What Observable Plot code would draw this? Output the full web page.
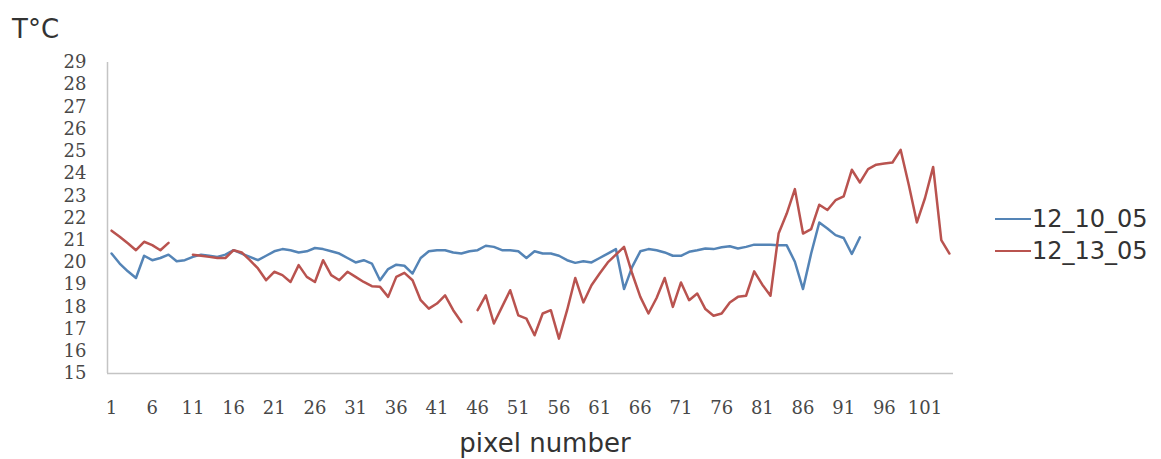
<!DOCTYPE html>
<html>
<head>
<meta charset="utf-8">
<script src="https://cdn.jsdelivr.net/npm/d3@7"></script>
<script src="https://cdn.jsdelivr.net/npm/@observablehq/plot@0.6"></script>
<style>
  html, body { margin: 0; padding: 0; background: #fff; }
  #wrap { position: relative; width: 1161px; height: 459px; overflow: hidden; }
  .lbl { position: absolute; font-family: "DejaVu Sans", sans-serif; color: #333; white-space: nowrap; line-height: 1; }
  .sw { position: absolute; height: 0; width: 36px; border-top: 2.5px solid; }
</style>
</head>
<body>
<div id="wrap"></div>
<script>
const seriesNames = ["12_10_05", "12_13_05"];
const seriesColors = ["#5484b6", "#b9534f"];
const yTicks = [15,16,17,18,19,20,21,22,23,24,25,26,27,28,29];
const xTicks = [1,6,11,16,21,26,31,36,41,46,51,56,61,66,71,76,81,86,91,96,101];

// 12_10_05 (pixels 1..93)
const blue = [20.4,19.95,19.6,19.3,20.3,20.1,20.2,20.35,20.05,20.1,
  20.25,20.35,20.3,20.25,20.35,20.55,20.4,20.25,20.1,20.3,
  20.5,20.6,20.55,20.45,20.5,20.65,20.6,20.5,20.4,20.2,
  20.0,20.1,19.95,19.2,19.7,19.9,19.85,19.5,20.2,20.5,
  20.55,20.55,20.45,20.4,20.5,20.55,20.75,20.7,20.55,20.55,
  20.5,20.2,20.5,20.4,20.4,20.3,20.1,19.98,20.05,20.0,
  20.2,20.4,20.6,18.8,19.8,20.5,20.6,20.55,20.45,20.3,
  20.3,20.48,20.55,20.63,20.6,20.68,20.73,20.63,20.7,20.8,
  20.8,20.8,20.77,20.77,20.03,18.8,20.4,21.8,21.53,21.23,
  21.1,20.38,21.13];

// 12_13_05 (pixels 1..104), null = missing
const red = [21.43,21.16,20.86,20.55,20.93,20.78,20.55,20.88,null,null,
  20.35,20.3,20.25,20.2,20.2,20.55,20.45,20.1,19.73,19.2,
  19.58,19.43,19.12,19.88,19.35,19.12,20.1,19.43,19.2,19.58,
  19.35,19.12,18.93,18.9,18.45,19.35,19.53,19.2,18.3,17.92,
  18.15,18.52,17.85,17.32,null,17.85,18.52,17.25,18.0,18.75,
  17.62,17.47,16.72,17.7,17.85,16.57,17.85,19.3,18.2,18.97,
  19.5,20.0,20.35,20.7,19.5,18.45,17.7,18.4,19.3,18.0,
  19.1,18.3,18.6,17.9,17.6,17.7,18.2,18.45,18.5,19.6,
  19.0,18.5,21.3,22.2,23.3,21.3,21.5,22.6,22.36,22.8,
  22.97,24.17,23.6,24.2,24.4,24.45,24.5,25.07,23.5,21.8,
  22.9,24.3,21.0,20.4];

const rows = [];
blue.forEach((v, i) => rows.push({pixel: i + 1, temp: v == null ? NaN : v, series: seriesNames[0]}));
red.forEach((v, i) => rows.push({pixel: i + 1, temp: v == null ? NaN : v, series: seriesNames[1]}));

const chart = Plot.plot({
  width: 1161,
  height: 459,
  marginLeft: 107,
  marginRight: 208,
  marginTop: 62,
  marginBottom: 86,
  x: {domain: [0.5, 104.5]},
  y: {domain: [15, 29]},
  color: {domain: seriesNames, range: seriesColors},
  style: {fontFamily: "'DejaVu Serif', serif", fontSize: "18px", color: "#484848", background: "white", overflow: "visible"},
  marks: [
    Plot.ruleX([0.5], {stroke: "#c4c4c4", strokeWidth: 1.5}),
    Plot.ruleY([15], {stroke: "#c4c4c4", strokeWidth: 1.5}),
    Plot.axisY({ticks: yTicks, tickSize: 0, tickPadding: 21, label: null}),
    Plot.axisX({ticks: xTicks, tickSize: 0, tickPadding: 28, label: null}),
    Plot.line(rows, {x: "pixel", y: "temp", z: "series", stroke: "series", strokeWidth: 2.5, strokeLinejoin: "round"})
  ]
});

const wrap = document.getElementById("wrap");
wrap.appendChild(chart);

function addLabel(text, left, top, size, extra) {
  const d = document.createElement("div");
  d.className = "lbl";
  d.textContent = text;
  d.style.left = left + "px";
  d.style.top = top + "px";
  d.style.fontSize = size + "px";
  if (extra) Object.assign(d.style, extra);
  wrap.appendChild(d);
}
addLabel("T°C", 12, 16, 26);
addLabel("pixel number", 345, 430, 26, {width: "400px", textAlign: "center"});

seriesNames.forEach((name, k) => {
  const top = 207 + k * 32;
  const sw = document.createElement("div");
  sw.className = "sw";
  sw.style.left = "995px";
  sw.style.top = (top + 11) + "px";
  sw.style.borderTopColor = seriesColors[k];
  wrap.appendChild(sw);
  addLabel(name, 1032, top, 24);
});
</script>
</body>
</html>
